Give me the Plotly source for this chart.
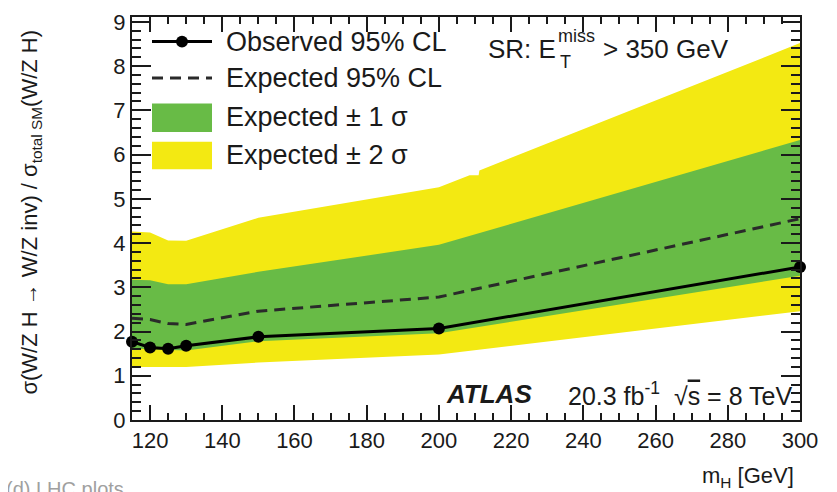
import plotly.graph_objects as go

# ---------------- data ----------------
mass = [115, 120, 125, 130, 150, 200, 300]
observed = [1.77, 1.64, 1.61, 1.68, 1.88, 2.07, 3.46]
expected = [2.30, 2.27, 2.18, 2.16, 2.46, 2.78, 4.55]
sig1_up = [3.17, 3.16, 3.07, 3.07, 3.35, 3.96, 6.33]
sig1_dn = [1.62, 1.60, 1.58, 1.57, 1.78, 1.96, 3.26]
sig2_dn = [1.20, 1.20, 1.20, 1.20, 1.30, 1.48, 2.46]
sig2_up_mass = [115, 120, 125, 130, 150, 200, 208.5, 211, 211.2, 300]
sig2_up = [4.26, 4.24, 4.06, 4.05, 4.57, 5.26, 5.53, 5.53, 5.64, 8.52]

x_ticks = [120, 140, 160, 180, 200, 220, 240, 260, 280, 300]
y_ticks = [0, 1, 2, 3, 4, 5, 6, 7, 8, 9]

YELLOW = "#F3E912"
GREEN = "#68BB46"
FONT = "Liberation Sans, Arial, Helvetica, sans-serif"

# the page body has an 8px margin, so the figure is drawn 8px in from the
# window's top-left corner; coordinates below are window pixels
OFF = 8
W, H = 837 - OFF, 492 - OFF
ML, MT = 132 - OFF, 10 - OFF
MR = W - (800 - OFF)
MB = H - (420 - OFF)
PW, PH = W - ML - MR, H - MT - MB


def px(x):
    return (x - OFF - ML) / PW


def py(y):
    return (H - MB - (y - OFF)) / PH


fig = go.Figure()

fig.add_trace(go.Scatter(
    x=sig2_up_mass + mass[::-1], y=sig2_up + sig2_dn[::-1],
    fill="toself", fillcolor=YELLOW, line=dict(width=0), mode="lines",
    hoverinfo="skip", showlegend=False))
fig.add_trace(go.Scatter(
    x=mass + mass[::-1], y=sig1_up + sig1_dn[::-1],
    fill="toself", fillcolor=GREEN, line=dict(width=0), mode="lines",
    hoverinfo="skip", showlegend=False))
fig.add_trace(go.Scatter(
    x=mass, y=expected, mode="lines",
    line=dict(color="#2a2a2a", width=3, dash="11px,7px"),
    showlegend=False))
fig.add_trace(go.Scatter(
    x=mass, y=observed, mode="lines+markers",
    line=dict(color="black", width=3),
    marker=dict(color="black", size=12),
    cliponaxis=False, showlegend=False))

# ---------------- manual legend ----------------
shapes = []
shapes.append(dict(type="line", xref="paper", yref="paper",
                   x0=px(152), x1=px(212), y0=py(35), y1=py(35),
                   line=dict(color="black", width=3)))
shapes.append(dict(type="circle", xref="paper", yref="paper",
                   x0=px(176), x1=px(188), y0=py(41), y1=py(29),
                   fillcolor="black", line=dict(color="black", width=0)))
shapes.append(dict(type="line", xref="paper", yref="paper",
                   x0=px(152), x1=px(212), y0=py(72), y1=py(72),
                   line=dict(color="#2a2a2a", width=3, dash="11px,7px")))
shapes.append(dict(type="rect", xref="paper", yref="paper",
                   x0=px(152), x1=px(212), y0=py(127), y1=py(98),
                   fillcolor=GREEN, line=dict(width=0)))
shapes.append(dict(type="rect", xref="paper", yref="paper",
                   x0=px(152), x1=px(212), y0=py(165), y1=py(137),
                   fillcolor=YELLOW, line=dict(width=0)))

annotations = []
leg_texts = ["Observed 95% CL", "Expected 95% CL", "Expected ± 1 σ", "Expected ± 2 σ"]
leg_y = [35, 72, 112, 150]
for t, yy in zip(leg_texts, leg_y):
    annotations.append(dict(text=t, xref="paper", yref="paper", x=px(224), y=py(yy),
                            xanchor="left", yanchor="middle", showarrow=False,
                            font=dict(size=27, color="#1a1a1a", family=FONT)))

# SR label with stacked sub/superscript
annotations.append(dict(text="SR: E", xref="paper", yref="paper", x=px(558), y=py(43),
                        xanchor="right", yanchor="middle", showarrow=False,
                        font=dict(size=26, color="#1a1a1a", family=FONT)))
annotations.append(dict(text="miss", xref="paper", yref="paper", x=px(556), y=py(29),
                        xanchor="left", yanchor="middle", showarrow=False,
                        font=dict(size=18, color="#1a1a1a", family=FONT)))
annotations.append(dict(text="T", xref="paper", yref="paper", x=px(558), y=py(56),
                        xanchor="left", yanchor="middle", showarrow=False,
                        font=dict(size=18, color="#1a1a1a", family=FONT)))
annotations.append(dict(text="> 350 GeV", xref="paper", yref="paper", x=px(601), y=py(43),
                        xanchor="left", yanchor="middle", showarrow=False,
                        font=dict(size=26, color="#1a1a1a", family=FONT)))

# ATLAS label
annotations.append(dict(text="<b><i>ATLAS</i></b>", xref="paper", yref="paper",
                        x=px(534), y=py(394), xanchor="right", yanchor="middle",
                        showarrow=False, font=dict(size=26, color="#1a1a1a", family=FONT)))
annotations.append(dict(text="20.3 fb<sup>-1</sup>  √<span style='text-decoration:overline'>s</span> = 8 TeV",
                        xref="paper", yref="paper",
                        x=px(794), y=py(394), xanchor="right", yanchor="middle",
                        showarrow=False, font=dict(size=25, color="#1a1a1a", family=FONT)))

# axis titles
annotations.append(dict(text="σ(W/Z H → W/Z inv) / σ<sub>total SM</sub>(W/Z H)",
                        xref="paper", yref="paper", x=px(31), y=py(209),
                        xanchor="center", yanchor="middle", textangle=-90,
                        showarrow=False, font=dict(size=22, color="#1a1a1a", family=FONT)))
annotations.append(dict(text="m<sub>H</sub> [GeV]", xref="paper", yref="paper",
                        x=px(796), y=py(478), xanchor="right", yanchor="middle",
                        showarrow=False, font=dict(size=22, color="#1a1a1a", family=FONT)))

# faint footer text (partly cut off at the bottom of the image)
annotations.append(dict(text="(d) LHC plots", xref="paper", yref="paper",
                        x=px(4), y=py(477), xanchor="left", yanchor="top",
                        showarrow=False, font=dict(size=20, color="#a0a0a0", family=FONT)))

fig.update_layout(
    width=W, height=H,
    margin=dict(l=ML, r=MR, t=MT, b=MB, pad=0),
    plot_bgcolor="white", paper_bgcolor="white",
    font=dict(family=FONT, size=22, color="#1a1a1a"),
    shapes=shapes, annotations=annotations,
    showlegend=False,
)
fig.update_xaxes(
    range=[115, 300], tickvals=x_ticks, ticktext=[str(v) for v in x_ticks],
    ticks="inside", ticklen=15, tickwidth=1.5, tickcolor="#1a1a1a",
    showline=True, linewidth=2, linecolor="#1a1a1a", mirror="ticks",
    showgrid=False, zeroline=False, ticklabeloverflow="allow",
    minor=dict(dtick=5, tick0=115, ticks="inside", ticklen=7, tickwidth=1.5, tickcolor="#1a1a1a", showgrid=False),
    tickfont=dict(size=22, family=FONT),
)
fig.update_yaxes(
    range=[0, 9.11], tickvals=y_ticks, ticktext=[str(v) for v in y_ticks],
    ticks="inside", ticklen=19, tickwidth=1.5, tickcolor="#1a1a1a",
    showline=True, linewidth=2, linecolor="#1a1a1a", mirror="ticks",
    showgrid=False, zeroline=False, ticklabeloverflow="allow",
    minor=dict(dtick=0.2, tick0=0, ticks="inside", ticklen=9, tickwidth=1.5, tickcolor="#1a1a1a", showgrid=False),
    tickfont=dict(size=22, family=FONT),
)

fig.write_html("out.html")
